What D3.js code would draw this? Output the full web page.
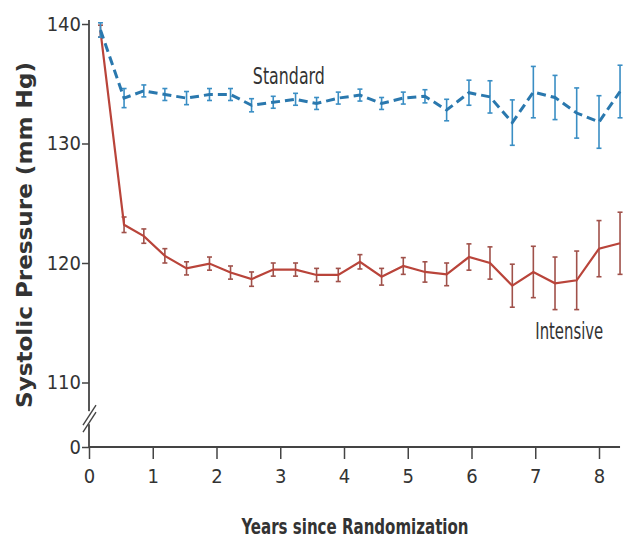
<!DOCTYPE html>
<html>
<head>
<meta charset="utf-8">
<script src="https://cdn.jsdelivr.net/npm/d3@7"></script>
<style>
  body { margin: 0; background: #fff; }
  svg { display: block; }
</style>
</head>
<body>
<div id="chart"></div>
<script>
// years since randomization for each visit
const years = [0.18, 0.55, 0.86, 1.19, 1.53, 1.89, 2.22, 2.55, 2.89, 3.24, 3.57, 3.91, 4.25,
  4.59, 4.93, 5.27, 5.61, 5.96, 6.29, 6.64, 6.97, 7.31, 7.65, 8.0, 8.33];

const standardMean = [139.5, 133.8, 134.4, 134.1, 133.8, 134.1, 134.1, 133.2, 133.45, 133.7, 133.35,
  133.8, 134.05, 133.35, 133.8, 133.95, 132.8, 134.25, 133.9, 131.75, 134.3, 133.85, 132.55, 131.8, 134.35];
const standardErr = [0.6, 0.8, 0.5, 0.5, 0.55, 0.5, 0.5, 0.55, 0.5, 0.5, 0.5,
  0.5, 0.5, 0.5, 0.5, 0.55, 0.9, 1.05, 1.35, 1.9, 2.15, 1.85, 2.1, 2.2, 2.2];

const intensiveMean = [139.4, 123.2, 122.25, 120.6, 119.55, 119.95, 119.2, 118.65, 119.45, 119.45, 119.0,
  119.0, 120.1, 118.85, 119.75, 119.25, 119.05, 120.5, 120.0, 118.1, 119.25, 118.3, 118.55, 121.2, 121.65];
const intensiveErr = [0.5, 0.65, 0.6, 0.6, 0.55, 0.55, 0.55, 0.6, 0.55, 0.55, 0.55,
  0.55, 0.6, 0.7, 0.7, 0.85, 0.95, 1.1, 1.35, 1.8, 2.15, 2.2, 2.45, 2.35, 2.6];

const xTicks = [0, 1, 2, 3, 4, 5, 6, 7, 8];
const yTicks = [0, 110, 120, 130, 140];

const standard = years.map((x, i) => ({ x, y: standardMean[i], e: standardErr[i] }));
const intensive = years.map((x, i) => ({ x, y: intensiveMean[i], e: intensiveErr[i] }));

const xAccessor = d => d.x;
const yAccessor = d => d.y;

let dimensions = {
  width: 633,
  height: 544,
  margin: { top: 20, right: 13, bottom: 97, left: 89 },
};
dimensions.boundedWidth = dimensions.width - dimensions.margin.left - dimensions.margin.right;
dimensions.boundedHeight = dimensions.height - dimensions.margin.top - dimensions.margin.bottom;

const wrapper = d3.select("#chart")
  .append("svg")
  .attr("width", dimensions.width)
  .attr("height", dimensions.height);

const bounds = wrapper.append("g")
  .attr("transform", `translate(${dimensions.margin.left},${dimensions.margin.top})`);

const xScale = d3.scaleLinear()
  .domain([0, 8])
  .range([0, 510]);

// broken axis: 0 at the bottom, then jump to ~106
const yScale = d3.scaleLinear()
  .domain([0, 106, 140])
  .range([dimensions.boundedHeight, 410.3, 4]);

const axisColor = "#444";
const labelFont = "'DejaVu Sans Condensed', 'DejaVu Sans', sans-serif";

// x axis
const xAxis = bounds.append("g")
  .attr("transform", `translate(0,${dimensions.boundedHeight})`)
  .call(d3.axisBottom(xScale).tickValues(xTicks).tickSize(12).tickSizeOuter(0).tickPadding(10));
xAxis.select(".domain").attr("d", `M0,0H${xScale(8.33)}`);

// y axis
const yAxis = bounds.append("g")
  .call(d3.axisLeft(yScale).tickValues(yTicks).tickSize(7).tickSizeOuter(0).tickPadding(1));
yAxis.select(".domain").attr("d", `M0,${dimensions.boundedHeight}V0`);

[xAxis, yAxis].forEach(ax => {
  ax.selectAll(".domain").attr("stroke", axisColor).attr("stroke-width", 1.8);
  ax.selectAll(".tick line").attr("stroke", axisColor).attr("stroke-width", 1.5);
  ax.selectAll(".tick text")
    .attr("fill", "#333")
    .style("font-family", labelFont)
    .style("font-size", "20px");
});

// axis break marks
const breakTop = yScale(107.6);
bounds.append("rect")
  .attr("x", -4).attr("width", 8)
  .attr("y", breakTop).attr("height", 13)
  .attr("fill", "#fff");
[0, 7].forEach(off => {
  bounds.append("line")
    .attr("x1", -6).attr("y1", breakTop + 14 + off)
    .attr("x2", 7).attr("y2", breakTop - 6 + off)
    .attr("stroke", axisColor)
    .attr("stroke-width", 1.4);
});

// series
function drawSeries(data, lineColor, barColor, width, dash) {
  const lineGenerator = d3.line()
    .x(d => xScale(xAccessor(d)))
    .y(d => yScale(yAccessor(d)));

  const bars = bounds.append("g");
  data.forEach(d => {
    const cx = xScale(d.x);
    const y0 = yScale(d.y - d.e);
    const y1 = yScale(d.y + d.e);
    bars.append("line")
      .attr("x1", cx).attr("x2", cx).attr("y1", y0).attr("y2", y1)
      .attr("stroke", barColor).attr("stroke-width", 1.6);
    [y0, y1].forEach(yy => {
      bars.append("line")
        .attr("x1", cx - 2.5).attr("x2", cx + 2.5).attr("y1", yy).attr("y2", yy)
        .attr("stroke", barColor).attr("stroke-width", 1.6);
    });
  });

  bounds.append("path")
    .attr("d", lineGenerator(data))
    .attr("fill", "none")
    .attr("stroke", lineColor)
    .attr("stroke-width", width)
    .attr("stroke-dasharray", dash);
}

drawSeries(intensive, "#b9443a", "#a0514a", 2.2, null);
drawSeries(standard, "#2a78ae", "#3a8ec4", 3, "9,5");

// series labels
bounds.append("text")
  .attr("x", xScale(2.57))
  .attr("y", yScale(135.0))
  .attr("fill", "#333")
  .attr("textLength", 72)
  .attr("lengthAdjust", "spacingAndGlyphs")
  .style("font-family", labelFont)
  .style("font-size", "23px")
  .text("Standard");

bounds.append("text")
  .attr("x", xScale(7.0))
  .attr("y", yScale(113.6))
  .attr("fill", "#333")
  .attr("textLength", 68)
  .attr("lengthAdjust", "spacingAndGlyphs")
  .style("font-family", labelFont)
  .style("font-size", "23px")
  .text("Intensive");

// axis titles
wrapper.append("text")
  .attr("x", 355)
  .attr("y", 534)
  .attr("text-anchor", "middle")
  .attr("fill", "#333")
  .attr("textLength", 227)
  .attr("lengthAdjust", "spacingAndGlyphs")
  .style("font-family", labelFont)
  .style("font-size", "22px")
  .style("font-weight", "bold")
  .text("Years since Randomization");

wrapper.append("text")
  .attr("transform", "translate(32,235) rotate(-90)")
  .attr("text-anchor", "middle")
  .attr("fill", "#333")
  .attr("textLength", 346)
  .attr("lengthAdjust", "spacingAndGlyphs")
  .style("font-family", "'DejaVu Sans', sans-serif")
  .style("font-size", "22px")
  .style("font-weight", "bold")
  .text("Systolic Pressure (mm Hg)");
</script>
</body>
</html>
